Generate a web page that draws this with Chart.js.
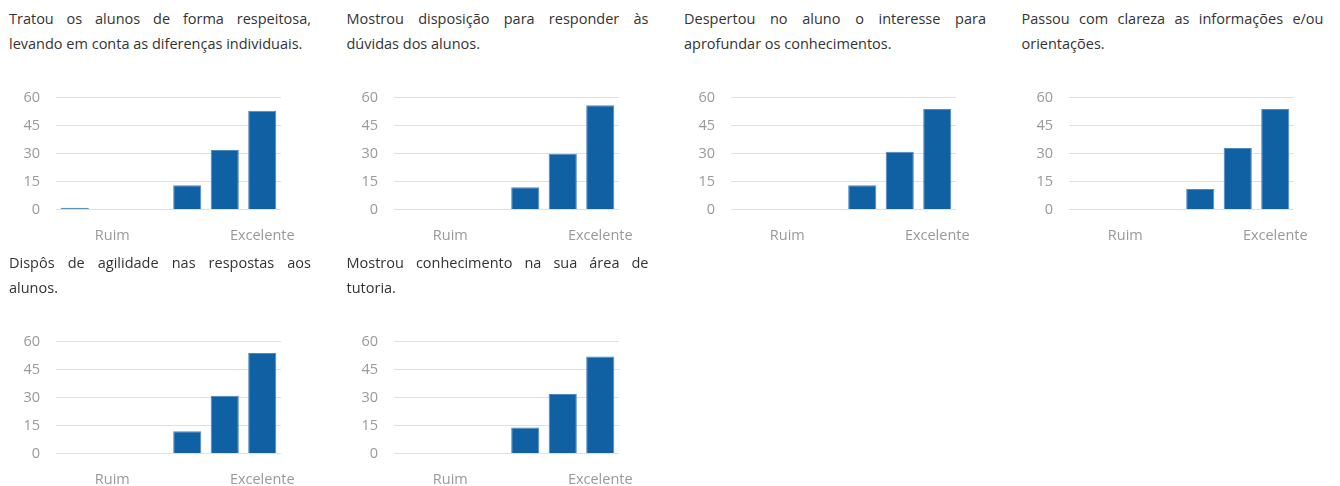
<!DOCTYPE html>
<html>
<head>
<meta charset="utf-8">
<script src="https://cdn.jsdelivr.net/npm/chart.js"></script>
<style>
    body { margin: 0; background: #fff; font-family: "Open Sans", sans-serif; }
    .cell { position: absolute; width: 302px; }
    .titulo { position: absolute; top: 0; left: 0; width: 302px; font-size: 14.5px; line-height: 25px; color: #333; text-align: justify; }
    .cell canvas { position: absolute; left: 0; top: 67px; }
</style>
</head>
<body>
<div id="grade"></div>
<script>
// Categorias (só "Ruim" e "Excelente" aparecem no eixo)
const categorias = ['', 'Ruim', '', '', '', 'Excelente'];
const ticksY = [0, 15, 30, 45, 60];

// Perguntas
const perguntas = [
    'Tratou os alunos de forma respeitosa, levando em conta as diferenças individuais.',
    'Mostrou disposição para responder às dúvidas dos alunos.',
    'Despertou no aluno o interesse para aprofundar os conhecimentos.',
    'Passou com clareza as informações e/ou orientações.',
    'Dispôs de agilidade nas respostas aos alunos.',
    'Mostrou conhecimento na sua área de tutoria.'
];

// Respostas por pergunta
const respeito = [1, 0, 0, 13, 32, 53];
const disposicao = [0, 0, 0, 12, 30, 56];
const interesse = [0, 0, 0, 13, 31, 54];
const clareza = [0, 0, 0, 11, 33, 54];
const agilidade = [0, 0, 0, 12, 31, 54];
const conhecimento = [0, 0, 0, 14, 32, 52];
const series = [respeito, disposicao, interesse, clareza, agilidade, conhecimento];

const AZUL = '#1060a4';
const FONTE = { family: 'Open Sans', size: 14.5 };
const grade = document.getElementById('grade');

series.forEach((valores, i) => {
    const col = i % 4;
    const lin = Math.floor(i / 4);
    const cell = document.createElement('div');
    cell.className = 'cell';
    cell.style.left = (9 + col * 337.5) + 'px';
    cell.style.top = (6 + lin * 244) + 'px';
    cell.innerHTML = `<div class="titulo">${perguntas[i]}</div>`;
    const canvas = document.createElement('canvas');
    canvas.width = 320;
    canvas.height = 190;
    canvas.style.width = '320px';
    canvas.style.height = '190px';
    cell.appendChild(canvas);
    grade.appendChild(cell);

    new Chart(canvas.getContext('2d'), {
        type: 'bar',
        data: {
            labels: categorias,
            datasets: [{
                data: valores,
                backgroundColor: AZUL,
                borderColor: '#4f88c0',
                borderWidth: 1,
                categoryPercentage: 1,
                barPercentage: 0.75
            }]
        },
        options: {
            responsive: false,
            animation: false,
            layout: { padding: { top: 8, right: 48, bottom: 0, left: 0 } },
            plugins: { legend: { display: false }, tooltip: { enabled: false } },
            scales: {
                x: {
                    grid: { display: false, drawTicks: false },
                    border: { display: false },
                    ticks: {
                        color: '#999',
                        font: FONTE,
                        padding: 18,
                        autoSkip: false,
                        maxRotation: 0
                    }
                },
                y: {
                    min: 0,
                    max: 60,
                    afterFit: s => { s.width = 47; },
                    afterBuildTicks: s => { s.ticks = ticksY.map(v => ({ value: v })); },
                    grid: { color: '#e0e0e0', drawTicks: false },
                    border: { display: false },
                    ticks: {
                        color: '#999',
                        font: FONTE,
                        padding: 16
                    }
                }
            }
        }
    });
});
</script>
</body>
</html>
